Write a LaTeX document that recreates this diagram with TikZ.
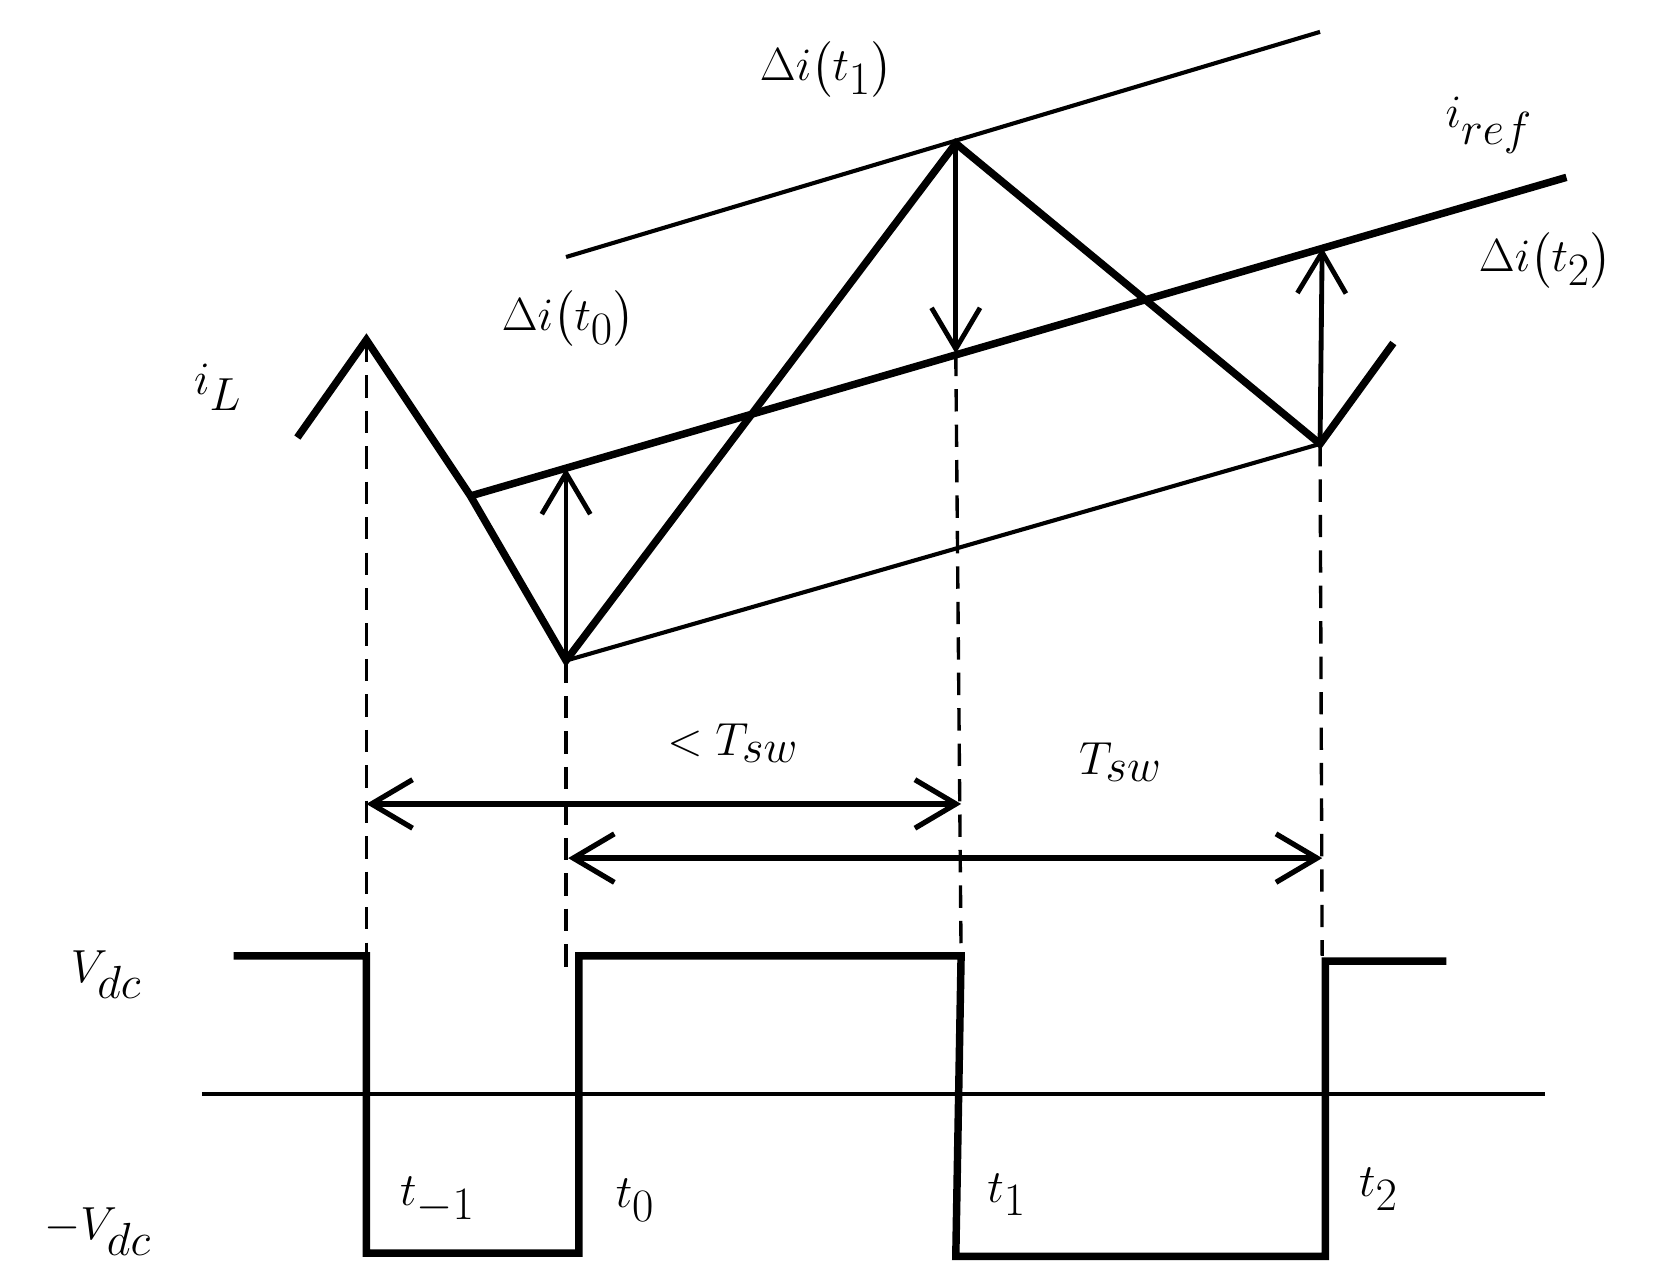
\documentclass[tikz,border=0pt]{standalone}
\usepackage{amsmath}
\usetikzlibrary{arrows.meta}
\begin{document}
\begin{tikzpicture}[x=0.02cm,y=-0.02cm,
  heavyline/.style={line width=4pt},
  lightline/.style={line width=2.2pt},
  dashline/.style={line width=1.8pt,dash pattern=on 12pt off 7pt},
  arr/.style={line width=2.6pt,-{Straight Barb[length=22pt,width=26pt,line width=2.6pt]}},
  darr/.style={line width=2.8pt,{Straight Barb[length=22pt,width=26pt,line width=2.8pt]}-{Straight Barb[length=22pt,width=26pt,line width=2.8pt]}},
  lab/.style={font=\fontsize{36}{40}\selectfont,inner sep=0pt}]
\useasboundingbox (0,0) rectangle (1565,1205);
\coordinate (a) at (280,412); \coordinate (p0) at (345,320);
\coordinate (m0) at (443,467); \coordinate (v0) at (533,622);
\coordinate (p1) at (900,135); \coordinate (v1) at (1243,418);
\coordinate (e) at (1312,323);
\coordinate (r0) at (443,467); \coordinate (r1) at (1475,167);
\coordinate (u0) at (533,242); \coordinate (u1) at (1243,30);
\coordinate (q0) at (533,441); \coordinate (q1) at (900,333); \coordinate (q2) at (1245,233);
\draw[lightline] (u0) -- (u1);
\draw[lightline] (v0) -- (v1);
\draw[heavyline] (r0) -- (r1);
\draw[heavyline,line join=miter] (a) -- (p0) -- (m0) -- (v0) -- (p1) -- (v1) -- (e);
\draw[arr] (v0) -- (q0);
\draw[arr] (p1) -- (q1);
\draw[arr] (v1) -- (q2);
\coordinate (d0) at (345,900); \coordinate (d1) at (533,915);
\coordinate (d2) at (905,900); \coordinate (d3) at (1245,900);
\draw[dashline] (p0) -- (d0);
\draw[dashline] (v0) -- (d1);
\draw[dashline] (q1) -- (d2);
\draw[dashline] (v1) -- (d3);
\coordinate (h0) at (345,757); \coordinate (h1) at (905,757);
\coordinate (k0) at (535,808); \coordinate (k1) at (1245,808);
\draw[darr] (h0) -- (h1);
\draw[darr] (k0) -- (k1);
\coordinate (z0) at (190,1030); \coordinate (z1) at (1455,1030);
\draw[lightline] (z0) -- (z1);
\draw[heavyline,line join=miter] (220,900) -- (345,900) -- (345,1180) -- (545,1180) -- (545,900) -- (905,900) -- (900,1183) -- (1248,1183) -- (1248,905) -- (1362,905);
\node[lab] (l1) at (100,918) {$V_{dc}$};
\node[lab] (l2) at (92,1160) {$-V_{dc}$};
\node[lab] (l3) at (412,1130) {$t_{-1}$};
\node[lab] (l4) at (598,1130) {$t_0$};
\node[lab] (l5) at (948,1125) {$t_1$};
\node[lab] (l6) at (1298,1120) {$t_2$};
\node[lab] (l7) at (690,700) {$<T_{sw}$};
\node[lab] (l8) at (1055,718) {$T_{sw}$};
\node[lab] (l9) at (535,300) {$\Delta i\bigl(t_0\bigr)$};
\node[lab] (l10) at (778,65) {$\Delta i\bigl(t_1\bigr)$};
\node[lab] (l11) at (1455,245) {$\Delta i\bigl(t_2\bigr)$};
\node[lab] (l12) at (1402,118) {$i_{ref}$};
\node[lab] (l13) at (205,365) {$i_L$};
\end{tikzpicture}
\end{document}
